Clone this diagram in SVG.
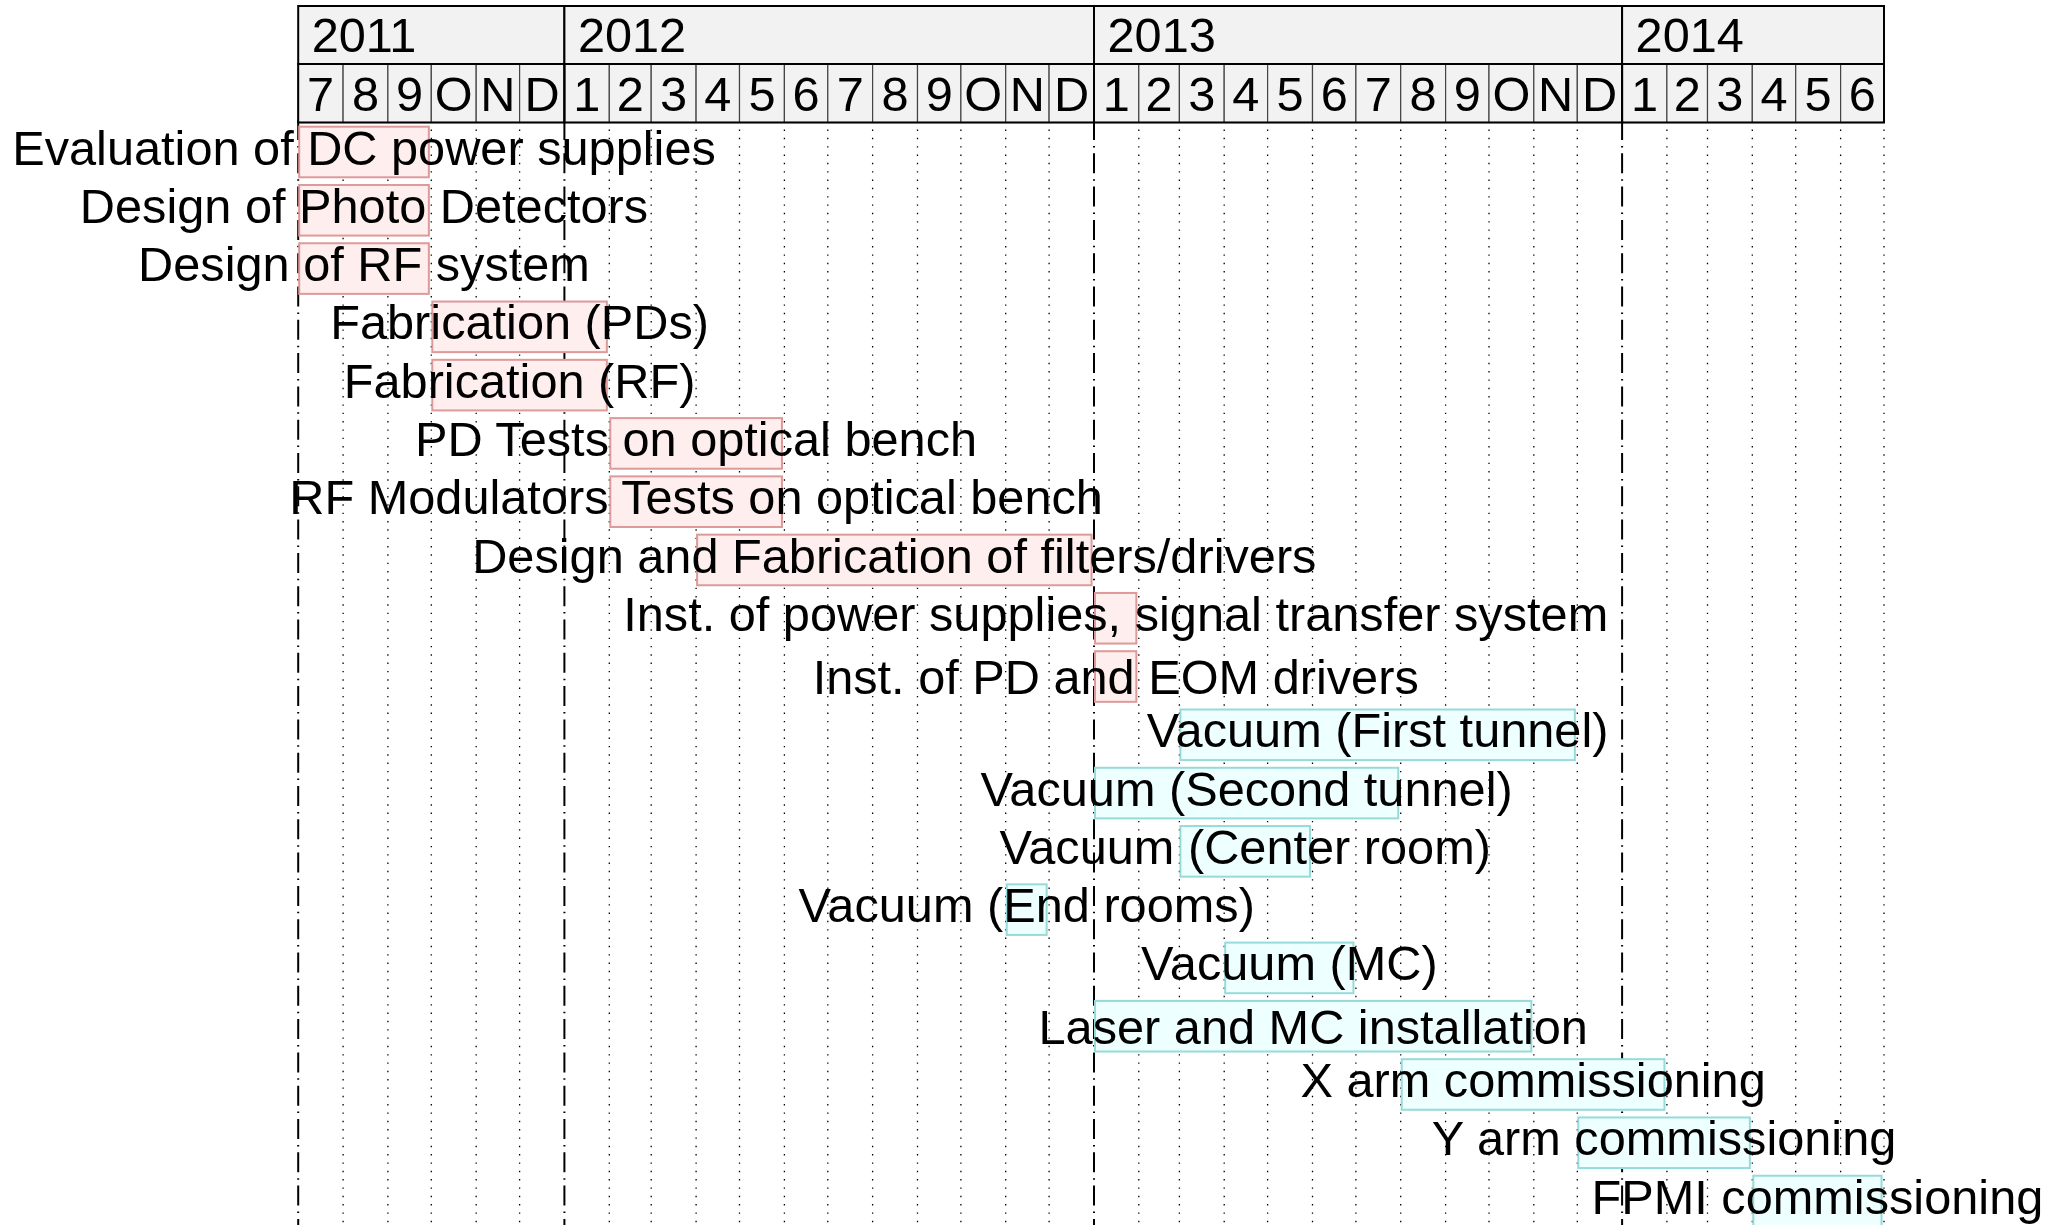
<svg xmlns="http://www.w3.org/2000/svg" width="2062" height="1225" viewBox="0 0 2062 1225">
<style>
text{font-family:"Liberation Sans",Arial,Helvetica,sans-serif;font-size:48.7px;fill:#000}
.yr{fill:#f2f2f2;stroke:#000;stroke-width:2}
.yb{fill:none;stroke:#000;stroke-width:2}
.mo{fill:#f2f2f2;stroke:#444;stroke-width:1.2}
.ml{text-anchor:middle}
.dot{fill:none;stroke:#000;stroke-width:1.3;stroke-dasharray:1.4 6.93}
.dd{fill:none;stroke:#000;stroke-width:2;stroke-dasharray:20 5.9 1.5 5.9}
.r{fill:#ffeeee;stroke:#dd9a9a;stroke-width:2}
.c{fill:#eeffff;stroke:#96dada;stroke-width:2}
.t{text-anchor:middle}
</style>
<rect width="2062" height="1225" fill="#fff"/>
<g id="grid">
<path class="dot" d="M343.1 129.5V1225M387.9 129.5V1225M431.3 129.5V1225M476.2 129.5V1225M519.6 129.5V1225M609.3 129.5V1225M651.2 129.5V1225M696.1 129.5V1225M739.5 129.5V1225M784.4 129.5V1225M827.8 129.5V1225M872.6 129.5V1225M917.5 129.5V1225M960.9 129.5V1225M1005.7 129.5V1225M1049.1 129.5V1225M1138.8 129.5V1225M1179.4 129.5V1225M1224.2 129.5V1225M1267.6 129.5V1225M1312.5 129.5V1225M1355.9 129.5V1225M1400.7 129.5V1225M1445.6 129.5V1225M1489 129.5V1225M1533.8 129.5V1225M1577.3 129.5V1225M1666.9 129.5V1225M1707.5 129.5V1225M1752.3 129.5V1225M1795.7 129.5V1225M1840.6 129.5V1225M1884 129.5V1225"/>
<path class="dd" d="M298.2 120V1225M564.4 120V1225M1094 120V1225M1622.1 120V1225"/>
</g>
<g id="header">
<rect class="yr" x="298.2" y="6" width="266.2" height="58"/>
<rect class="yr" x="564.4" y="6" width="529.6" height="58"/>
<rect class="yr" x="1094" y="6" width="528.1" height="58"/>
<rect class="yr" x="1622.1" y="6" width="261.9" height="58"/>
<text x="311.7" y="51.7">2011</text>
<text x="577.9" y="51.7">2012</text>
<text x="1107.5" y="51.7">2013</text>
<text x="1635.6" y="51.7">2014</text>
<rect class="mo" x="298.2" y="64" width="44.9" height="58.5"/>
<rect class="mo" x="343.1" y="64" width="44.8" height="58.5"/>
<rect class="mo" x="387.9" y="64" width="43.4" height="58.5"/>
<rect class="mo" x="431.3" y="64" width="44.9" height="58.5"/>
<rect class="mo" x="476.2" y="64" width="43.4" height="58.5"/>
<rect class="mo" x="519.6" y="64" width="44.8" height="58.5"/>
<rect class="mo" x="564.4" y="64" width="44.9" height="58.5"/>
<rect class="mo" x="609.3" y="64" width="41.9" height="58.5"/>
<rect class="mo" x="651.2" y="64" width="44.9" height="58.5"/>
<rect class="mo" x="696.1" y="64" width="43.4" height="58.5"/>
<rect class="mo" x="739.5" y="64" width="44.9" height="58.5"/>
<rect class="mo" x="784.4" y="64" width="43.4" height="58.5"/>
<rect class="mo" x="827.8" y="64" width="44.8" height="58.5"/>
<rect class="mo" x="872.6" y="64" width="44.9" height="58.5"/>
<rect class="mo" x="917.5" y="64" width="43.4" height="58.5"/>
<rect class="mo" x="960.9" y="64" width="44.8" height="58.5"/>
<rect class="mo" x="1005.7" y="64" width="43.4" height="58.5"/>
<rect class="mo" x="1049.1" y="64" width="44.9" height="58.5"/>
<rect class="mo" x="1094" y="64" width="44.8" height="58.5"/>
<rect class="mo" x="1138.8" y="64" width="40.6" height="58.5"/>
<rect class="mo" x="1179.4" y="64" width="44.8" height="58.5"/>
<rect class="mo" x="1224.2" y="64" width="43.4" height="58.5"/>
<rect class="mo" x="1267.6" y="64" width="44.9" height="58.5"/>
<rect class="mo" x="1312.5" y="64" width="43.4" height="58.5"/>
<rect class="mo" x="1355.9" y="64" width="44.8" height="58.5"/>
<rect class="mo" x="1400.7" y="64" width="44.9" height="58.5"/>
<rect class="mo" x="1445.6" y="64" width="43.4" height="58.5"/>
<rect class="mo" x="1489" y="64" width="44.8" height="58.5"/>
<rect class="mo" x="1533.8" y="64" width="43.5" height="58.5"/>
<rect class="mo" x="1577.3" y="64" width="44.8" height="58.5"/>
<rect class="mo" x="1622.1" y="64" width="44.8" height="58.5"/>
<rect class="mo" x="1666.9" y="64" width="40.6" height="58.5"/>
<rect class="mo" x="1707.5" y="64" width="44.8" height="58.5"/>
<rect class="mo" x="1752.3" y="64" width="43.4" height="58.5"/>
<rect class="mo" x="1795.7" y="64" width="44.9" height="58.5"/>
<rect class="mo" x="1840.6" y="64" width="43.4" height="58.5"/>
<rect class="yb" x="298.2" y="64" width="266.2" height="58.5"/>
<rect class="yb" x="564.4" y="64" width="529.6" height="58.5"/>
<rect class="yb" x="1094" y="64" width="528.1" height="58.5"/>
<rect class="yb" x="1622.1" y="64" width="261.9" height="58.5"/>
<g class="ml">
<text x="320.65" y="111">7</text><text x="365.5" y="111">8</text><text x="409.6" y="111">9</text><text x="453.75" y="111">O</text><text x="497.9" y="111">N</text><text x="542" y="111">D</text>
<text x="586.85" y="111">1</text><text x="630.25" y="111">2</text><text x="673.65" y="111">3</text><text x="717.8" y="111">4</text><text x="761.95" y="111">5</text><text x="806.1" y="111">6</text><text x="850.2" y="111">7</text><text x="895.05" y="111">8</text><text x="939.2" y="111">9</text><text x="983.3" y="111">O</text><text x="1027.4" y="111">N</text><text x="1071.55" y="111">D</text>
<text x="1116.4" y="111">1</text><text x="1159.1" y="111">2</text><text x="1201.8" y="111">3</text><text x="1245.9" y="111">4</text><text x="1290.05" y="111">5</text><text x="1334.2" y="111">6</text><text x="1378.3" y="111">7</text><text x="1423.15" y="111">8</text><text x="1467.3" y="111">9</text><text x="1511.4" y="111">O</text><text x="1555.55" y="111">N</text><text x="1599.7" y="111">D</text>
<text x="1644.5" y="111">1</text><text x="1687.2" y="111">2</text><text x="1729.9" y="111">3</text><text x="1774" y="111">4</text><text x="1818.15" y="111">5</text><text x="1862.3" y="111">6</text>
</g>
</g>
<g id="task1"><rect class="r" x="299.2" y="126.7" width="129.65" height="50.6"/><text class="t" x="364" y="164.5">Evaluation of DC power supplies</text></g>
<g id="task2"><rect class="r" x="299.2" y="184.98" width="129.65" height="50.6"/><text class="t" x="364" y="222.8">Design of Photo Detectors</text></g>
<g id="task3"><rect class="r" x="299.2" y="243.26" width="129.65" height="50.6"/><text class="t" x="364" y="281.1">Design of RF system</text></g>
<g id="task4"><rect class="r" x="432.3" y="301.54" width="174.55" height="50.6"/><text class="t" x="519.6" y="339.3">Fabrication (PDs)</text></g>
<g id="task5"><rect class="r" x="432.3" y="359.82" width="174.55" height="50.6"/><text class="t" x="519.6" y="397.6">Fabrication (RF)</text></g>
<g id="task6"><rect class="r" x="610.3" y="418.1" width="171.65" height="50.6"/><text class="t" x="696.1" y="455.9">PD Tests on optical bench</text></g>
<g id="task7"><rect class="r" x="610.3" y="476.38" width="171.65" height="50.6"/><text class="t" x="696.1" y="514.2">RF Modulators Tests on optical bench</text></g>
<g id="task8"><rect class="r" x="697.1" y="534.66" width="394.45" height="50.6"/><text class="t" x="894.3" y="572.5">Design and Fabrication of filters/drivers</text></g>
<g id="task9"><rect class="r" x="1095" y="592.94" width="41.35" height="50.6"/><text class="t" x="1115.7" y="630.7">Inst. of power supplies, signal transfer system</text></g>
<g id="task10"><rect class="r" x="1095" y="651.22" width="41.35" height="50.6"/><text class="t" x="1115.7" y="694">Inst. of PD and EOM drivers</text></g>
<g id="task11"><rect class="c" x="1180.4" y="709.5" width="394.45" height="50.6"/><text class="t" x="1377.6" y="747.3">Vacuum (First tunnel)</text></g>
<g id="task12"><rect class="c" x="1095" y="767.78" width="303.25" height="50.6"/><text class="t" x="1246.6" y="805.6">Vacuum (Second tunnel)</text></g>
<g id="task13"><rect class="c" x="1180.4" y="826.06" width="129.65" height="50.6"/><text class="t" x="1245.2" y="863.9">Vacuum (Center room)</text></g>
<g id="task14"><rect class="c" x="1006.7" y="884.34" width="39.95" height="50.6"/><text class="t" x="1026.7" y="922.1">Vacuum (End rooms)</text></g>
<g id="task15"><rect class="c" x="1225.2" y="942.62" width="128.25" height="50.6"/><text class="t" x="1289.3" y="980.4">Vacuum (MC)</text></g>
<g id="task16"><rect class="c" x="1095" y="1000.9" width="436.35" height="50.6"/><text class="t" x="1313.2" y="1043.7">Laser and MC installation</text></g>
<g id="task17"><rect class="c" x="1401.7" y="1059.18" width="262.75" height="50.6"/><text class="t" x="1533.1" y="1097">X arm commissioning</text></g>
<g id="task18"><rect class="c" x="1578.3" y="1117.46" width="171.55" height="50.6"/><text class="t" x="1664.1" y="1155.3">Y arm commissioning</text></g>
<g id="task19"><rect class="c" x="1753.3" y="1175.74" width="128.25" height="50.6"/><text class="t" x="1817.4" y="1213.5">FPMI commissioning</text></g>
</svg>
